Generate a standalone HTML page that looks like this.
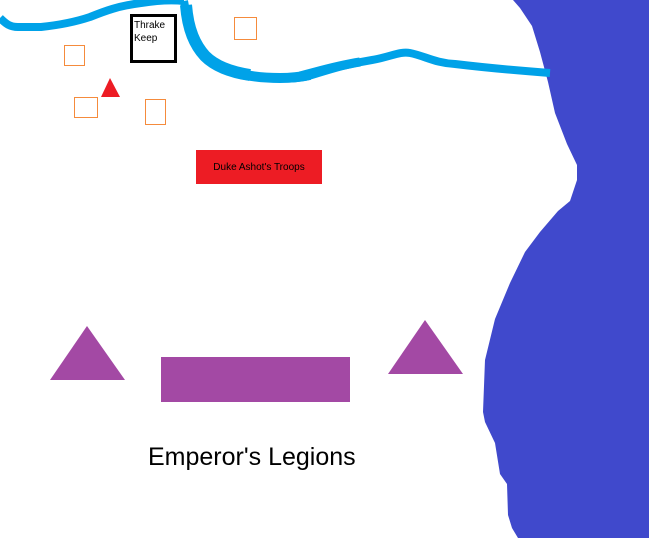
<!DOCTYPE html>
<html><head><meta charset="utf-8"><style>
html,body{margin:0;padding:0;background:#fff;width:649px;height:538px;overflow:hidden}
svg{display:block}
</style></head><body>
<svg width="649" height="538" viewBox="0 0 649 538" xmlns="http://www.w3.org/2000/svg">
<rect width="649" height="538" fill="#fff"/>
<path d="M513,0 L520,8 L532,26 L540,52 L548,82 L555,113 L567,144 L577,165 L577,180 L570,201 L558,211 L540,232 L525,252 L510,283 L495,319 L485,360 L483,412 L485,422 L495,443 L500,474 L507,484 L508,515 L512,528 L518,538 L649,538 L649,0 Z" fill="#4049cc"/>
<path d="M0,18 C6,24 10,27 18,27 L41,27 C60,25 75,22 90,17 C105,11 118,6 141,3 C160,0 175,0 184,1" fill="none" stroke="#00a2e8" stroke-width="8"/>
<path d="M184,1 C187,15 187,35 200,52 C212,66 235,75 269,78 C285,79 295,79 305,77 C320,73 340,65 372,60 C390,57 400,51 410,53 C425,56 435,63 455,64 C480,67 510,70 550,73" fill="none" stroke="#00a2e8" stroke-width="8"/>
<path d="M186,5 C188,30 195,45 205,56 C215,66 230,72 250,75" fill="none" stroke="#00a2e8" stroke-width="12"/>
<path d="M230,71 C245,76 260,78 280,78 C292,78 300,77 310,75" fill="none" stroke="#00a2e8" stroke-width="10"/>
<path d="M300,76 C320,71 335,66 360,62" fill="none" stroke="#00a2e8" stroke-width="9"/>
<rect x="131.5" y="15.5" width="44" height="46" fill="#fff" stroke="#000" stroke-width="3"/>
<text x="134" y="28" font-family="Liberation Sans, sans-serif" font-size="10" fill="#000">Thrake</text>
<text x="134" y="41" font-family="Liberation Sans, sans-serif" font-size="10" fill="#000">Keep</text>
<g fill="none" stroke="#f58b3c" stroke-width="1">
<rect x="64.5" y="45.5" width="20" height="20"/>
<rect x="74.5" y="97.5" width="23" height="20"/>
<rect x="145.5" y="99.5" width="20" height="25"/>
<rect x="234.5" y="17.5" width="22" height="22"/>
</g>
<polygon points="110,78 101,97 120,97" fill="#ed1c24"/>
<rect x="196" y="150" width="126" height="34" fill="#ed1c24"/>
<text x="259" y="170" text-anchor="middle" font-family="Liberation Sans, sans-serif" font-size="10" fill="#000">Duke Ashot's Troops</text>
<g fill="#a349a4">
<polygon points="87,326 50,380 125,380"/>
<polygon points="425,320 388,374 463,374"/>
<rect x="161" y="357" width="189" height="45"/>
</g>
<text x="148" y="465" font-family="Liberation Sans, sans-serif" font-size="25" fill="#000">Emperor's Legions</text>
</svg>
</body></html>
